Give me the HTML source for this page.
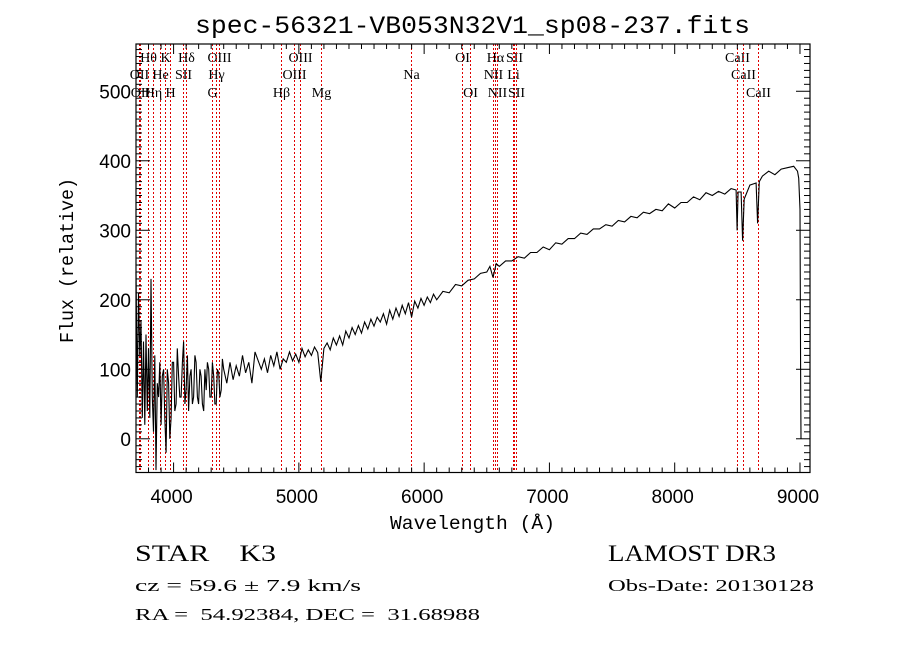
<!DOCTYPE html>
<html><head><meta charset="utf-8"><style>
body{margin:0;background:#fff}
svg{display:block}
text{white-space:pre}
</style></head><body>
<svg id="chart" width="900" height="649" xmlns="http://www.w3.org/2000/svg" xml:space="preserve">
<rect width="900" height="649" fill="#fff"/>
<text x="195" y="33" font-family="Liberation Mono, monospace" font-size="25" textLength="555" lengthAdjust="spacingAndGlyphs">spec-56321-VB053N32V1_sp08-237.fits</text>
<g id="lines"></g>
<g id="ticks"></g>
<path id="spec" fill="none" stroke="#000" stroke-width="1.1" stroke-linejoin="miter"/>
<rect x="136" y="44" width="674" height="428.5" fill="none" stroke="#000" stroke-width="1.2"/>
<text x="390" y="529" font-family="Liberation Mono, monospace" font-size="19" textLength="165" lengthAdjust="spacingAndGlyphs">Wavelength (Å)</text>
<text transform="translate(73,343) rotate(-90)" font-family="Liberation Mono, monospace" font-size="19" textLength="165" lengthAdjust="spacingAndGlyphs">Flux (relative)</text>
<g font-family="Liberation Serif, serif" fill="#000">
<text x="135" y="561" font-size="23" textLength="141" lengthAdjust="spacingAndGlyphs">STAR    K3</text>
<text x="135" y="591" font-size="17" textLength="226" lengthAdjust="spacingAndGlyphs">cz = 59.6 ± 7.9 km/s</text>
<text x="135" y="620" font-size="17" textLength="345" lengthAdjust="spacingAndGlyphs">RA =  54.92384, DEC =  31.68988</text>
<text x="608" y="561" font-size="23" textLength="168" lengthAdjust="spacingAndGlyphs">LAMOST DR3</text>
<text x="608" y="591" font-size="17" textLength="206" lengthAdjust="spacingAndGlyphs">Obs-Date: 20130128</text>
</g>
</svg>
<script>
const lineWaves=[3798,3934,4102,4363,5007,6300,6563,6716,8498,3727,3889,4072,4340,4959,5893,6548,6708,8542,3729,3835,3969,4305,4861,5175,6364,6583,6731,8662];
const lineNames=["Hθ","K","Hδ","OIII","OIII","OI","Hα","SII","CaII","OII","He","SII","Hγ","OIII","Na","NII","Li","CaII","OII","Hη","H","G","Hβ","Mg","OI","NII","SII","CaII"];
const lineRows=[0,0,0,0,0,0,0,0,0,1,1,1,1,1,1,1,1,1,2,2,2,2,2,2,2,2,2,2];
const xTicks=[4000,5000,6000,7000,8000,9000];
const yTicks=[0,100,200,300,400,500];
const waves=[3700,3710,3720,3730,3740,3750,3760,3770,3780,3790,3800,3810,3820,3830,3840,3850,3860,3870,3880,3890,3900,3910,3920,3930,3940,3950,3960,3970,3980,3990,4000,4010,4020,4030,4040,4050,4060,4070,4080,4090,4100,4110,4120,4130,4140,4150,4160,4170,4180,4190,4200,4210,4220,4230,4240,4250,4260,4270,4280,4290,4300,4310,4320,4330,4340,4350,4360,4370,4380,4390,4400,
4425,4450,4475,4500,4525,4550,4575,4600,4625,4650,4700,4725,4750,4775,4800,4825,4850,4875,4900,4925,4950,4975,5000,5025,5050,5075,5100,5125,5150,5175,5200,5225,5250,5275,5300,5325,5350,5375,5400,5425,5450,5475,5500,5525,5550,5575,5600,5625,5650,5675,5700,5725,5750,5775,5800,5825,5850,5875,5900,5925,5950,5975,6000,
6025,6050,6075,6100,6150,6200,6250,6300,6350,6400,6450,6500,6525,6550,6575,6600,6650,6700,6750,6800,6850,6900,6950,7000,7050,7100,7150,7200,7250,7300,7350,7400,7450,7500,7550,7600,7650,7700,7750,7800,7850,7900,7950,8000,8050,8100,8150,8200,8250,8300,8350,8400,8450,
8490,8498,8506,8530,8542,8555,8600,8650,8662,8675,8700,8750,8800,8850,8900,8950,8980,8990,9000,9005,9008];
const flux=[240,60,210,120,170,30,140,20,150,40,130,30,230,60,10,120,-45,80,60,110,20,90,100,30,-20,100,80,0,30,110,110,40,50,130,90,60,60,110,140,50,70,120,40,90,100,50,60,120,110,60,50,100,90,50,40,100,70,110,100,60,60,110,90,50,50,100,95,60,70,115,100,
80,110,85,105,90,120,95,110,80,125,100,115,95,120,105,125,100,115,110,125,112,122,110,130,118,128,120,132,124,82,130,138,128,145,135,148,135,155,145,160,150,163,152,168,158,172,162,175,168,180,165,185,172,188,176,192,180,196,175,198,188,202,192,
204,196,208,200,212,210,222,220,228,230,238,240,248,232,252,248,256,256,262,260,268,268,276,272,282,280,288,288,296,294,302,302,308,306,314,312,320,318,326,324,330,328,338,332,340,340,348,344,354,350,356,352,360,
358,300,355,355,285,345,365,368,310,370,378,385,380,388,390,392,385,375,330,100,0];
const X0=3700,X1=9080,PX0=136,PX1=810,Y0=-48.5,Y1=568,PY0=472.5,PY1=44;
function sx(w){return PX0+(w-X0)/(X1-X0)*(PX1-PX0);}
function sy(f){return PY0+(f-Y0)/(Y1-Y0)*(PY1-PY0);}
const NS="http://www.w3.org/2000/svg";
let d="";
for(let i=0;i<waves.length;i++){d+=(i?"L":"M")+sx(waves[i]).toFixed(1)+","+Math.max(PY1,Math.min(PY0,sy(flux[i]))).toFixed(1);}
document.getElementById('spec').setAttribute('d',d);
const lg=document.getElementById('lines');
const rowY=[62,79,97];
for(let i=0;i<lineWaves.length;i++){
  const x=Math.round(sx(lineWaves[i]))+0.5;
  const l=document.createElementNS(NS,'line');
  
  
  l.setAttribute('x1',x);l.setAttribute('x2',x);l.setAttribute('y1',PY1);l.setAttribute('y2',PY0);
  l.setAttribute('stroke','#e00000');l.setAttribute('stroke-width','1');l.setAttribute('stroke-dasharray','2,2');
  lg.appendChild(l);
  const t=document.createElementNS(NS,'text');
  
  
  t.setAttribute('x',x);t.setAttribute('y',rowY[lineRows[i]]);
  t.setAttribute('text-anchor','middle');t.setAttribute('font-family','Liberation Serif, serif');t.setAttribute('font-size','14');
  t.textContent=lineNames[i];
  lg.appendChild(t);
}
const tg=document.getElementById('ticks');
function tk(x1,y1,x2,y2){const l=document.createElementNS(NS,'line');


l.setAttribute('x1',x1);l.setAttribute('y1',y1);l.setAttribute('x2',x2);l.setAttribute('y2',y2);l.setAttribute('stroke','#000');l.setAttribute('stroke-width','1');tg.appendChild(l);}
for(let w=3700;w<=9080;w+=100){const x=sx(w);const maj=w%1000===0;const L=maj?10:5;tk(x,PY0,x,PY0-L);tk(x,PY1,x,PY1+L);}
for(let f=-40;f<=560;f+=10){const y=sy(f);const maj=f%100===0;const L=maj?14:6;tk(PX0,y,PX0+L,y);tk(PX1,y,PX1-L,y);}
for(const w of xTicks){const t=document.createElementNS(NS,'text');


t.setAttribute('x',sx(w)-2);t.setAttribute('y',503);t.setAttribute('text-anchor','middle');t.setAttribute('font-family','Liberation Sans, sans-serif');t.setAttribute('font-size','19');t.textContent=w;tg.appendChild(t);}
for(const f of yTicks){const t=document.createElementNS(NS,'text');


t.setAttribute('x',131);t.setAttribute('y',sy(f)+7);t.setAttribute('text-anchor','end');t.setAttribute('font-family','Liberation Sans, sans-serif');t.setAttribute('font-size','19');t.textContent=f;tg.appendChild(t);}
</script>
</body></html>
